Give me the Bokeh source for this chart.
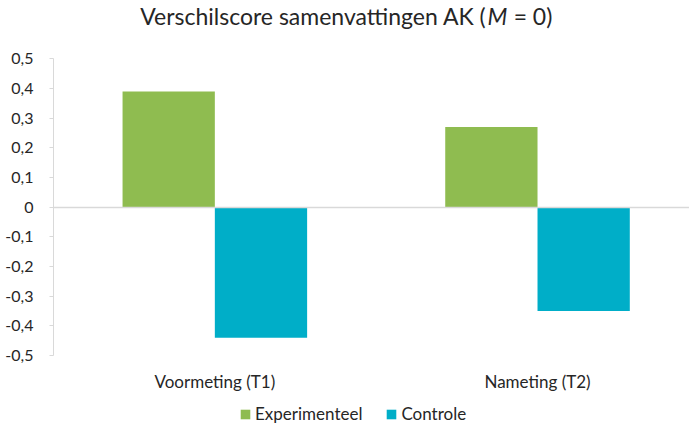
from bokeh.plotting import figure
from bokeh.models import (Range1d, FixedTicker, CustomJSTickFormatter, Label,
                          Legend, LegendItem, ColumnDataSource)
from bokeh.transform import dodge
from bokeh.embed import file_html
from bokeh.resources import INLINE

categories = ["Voormeting (T1)", "Nameting (T2)"]
experimenteel = [0.39, 0.27]
controle = [-0.44, -0.35]
y_ticks = [-0.5, -0.4, -0.3, -0.2, -0.1, 0.0, 0.1, 0.2, 0.3, 0.4, 0.5]
y_labels = ["-0,5", "-0,4", "-0,3", "-0,2", "-0,1", "0", "0,1", "0,2", "0,3", "0,4", "0,5"]
title_parts = ["Verschilscore samenvattingen AK (", "M", " = 0)"]

FONT = "Lato"
TXT = "#262626"
GREEN = "#8FBC50"
TEAL = "#00AEC8"
GRAY = "#D9D9D9"

pos = [i + 0.5 for i in range(len(categories))]
src = ColumnDataSource(dict(x=pos, exp=experimenteel, con=controle))

p = figure(width=689, height=425, output_backend="svg", toolbar_location=None,
           x_range=Range1d(0, 1.971), y_range=Range1d(-0.736, 0.6965),
           min_border_left=53, min_border_right=0, min_border_top=0, min_border_bottom=0)
p.outline_line_color = None
p.xgrid.visible = False
p.ygrid.visible = False
p.background_fill_color = "white"
p.border_fill_color = "white"

bw = 0.286
r1 = p.vbar(x=dodge("x", -bw / 2), top="exp", bottom=0, width=bw, source=src,
            fill_color=GREEN, line_color=None)
r2 = p.vbar(x=dodge("x", bw / 2), top=0, bottom="con", width=bw, source=src,
            fill_color=TEAL, line_color=None)

# zero line across the whole plot area
p.hspan(y=[0], line_color=GRAY, line_width=1.5)

# y axis
p.yaxis.ticker = FixedTicker(ticks=y_ticks)
p.yaxis.bounds = (-0.5, 0.5)
p.yaxis.formatter = CustomJSTickFormatter(args=dict(vals=y_ticks, labs=y_labels), code="""
let best = 0;
for (let i = 0; i < vals.length; i++) {
  if (Math.abs(vals[i] - tick) < Math.abs(vals[best] - tick)) best = i;
}
return labs[best];
""")
p.yaxis.axis_line_color = GRAY
p.yaxis.major_tick_line_color = GRAY
p.yaxis.major_tick_out = 4
p.yaxis.major_tick_in = 0
p.yaxis.minor_tick_line_color = None
p.yaxis.major_label_text_font = FONT
p.yaxis.major_label_text_font_size = "16px"
p.yaxis.major_label_text_color = TXT
p.yaxis.major_label_standoff = 16

# x axis, placed at the bottom of the value axis
p.xaxis.fixed_location = -0.5
p.xaxis.ticker = FixedTicker(ticks=pos)
p.xaxis.formatter = CustomJSTickFormatter(args=dict(vals=pos, labs=categories), code="""
let best = 0;
for (let i = 0; i < vals.length; i++) {
  if (Math.abs(vals[i] - tick) < Math.abs(vals[best] - tick)) best = i;
}
return labs[best];
""")
p.xaxis.axis_line_color = None
p.xaxis.major_tick_line_color = None
p.xaxis.minor_tick_line_color = None
p.xaxis.major_label_text_font = FONT
p.xaxis.major_label_text_font_size = "17px"
p.xaxis.major_label_text_color = TXT
p.xaxis.major_label_standoff = 10

# title made of three labels (italic M)
ty = 0.596
p.add_layout(Label(x=1.342, y=ty, text=title_parts[0], text_align="right",
                   text_font=FONT, text_font_size="23px", text_color=TXT))
p.add_layout(Label(x=1.345, y=ty, text=title_parts[1], text_align="left",
                   text_font=FONT, text_font_size="23px", text_font_style="italic",
                   text_color=TXT))
p.add_layout(Label(x=1.426, y=ty, text=title_parts[2], text_align="left",
                   text_font=FONT, text_font_size="23px", text_color=TXT))

legend = Legend(items=[LegendItem(label="Experimenteel", renderers=[r1]),
                       LegendItem(label="Controle", renderers=[r2])],
                orientation="horizontal", location=(186, 1),
                glyph_width=12, glyph_height=12, label_standoff=4, spacing=23,
                label_text_font=FONT, label_text_font_size="17px", label_text_color=TXT,
                border_line_color=None, background_fill_alpha=0, padding=2, margin=0)
p.add_layout(legend)

open("out.html", "w").write(file_html(p, INLINE))
